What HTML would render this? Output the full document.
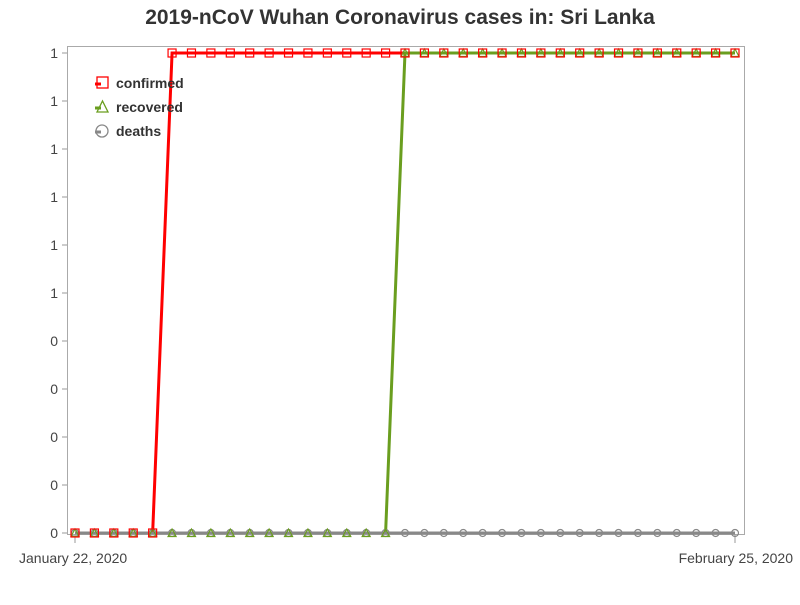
<!DOCTYPE html>
<html><head><meta charset="utf-8"><style>
body{margin:0;background:#fff;}
svg text{font-family:"Liberation Sans",sans-serif;}
</style></head><body>
<svg id="chart" width="800" height="600" xmlns="http://www.w3.org/2000/svg">
<text x="400" y="24" text-anchor="middle" font-size="21" font-weight="bold" fill="#333">2019-nCoV Wuhan Coronavirus cases in: Sri Lanka</text>
<rect x="67.5" y="46.5" width="677" height="488" fill="none" stroke="#aaa"/>
<g id="yaxis"></g>
<g id="xaxis"></g>
<g id="series"></g>
<g>
<g>
<rect x="97" y="77" width="11" height="11" fill="none" stroke="red" stroke-width="1.3"/><line x1="95" y1="84" x2="101" y2="84" stroke="red" stroke-width="3"/>
<text x="116" y="88" font-size="14" font-weight="bold" fill="#333">confirmed</text></g>
<g>
<path d="M97 112 L102.5 101 L108 112 Z" fill="none" stroke="#6a9e1f" stroke-width="1.3"/><line x1="95" y1="108" x2="101" y2="108" stroke="#6a9e1f" stroke-width="3"/>
<text x="116" y="112" font-size="14" font-weight="bold" fill="#333">recovered</text></g>
<g>
<circle cx="102" cy="131" r="6" fill="none" stroke="#888" stroke-width="1.3"/><line x1="95" y1="132" x2="101" y2="132" stroke="#888" stroke-width="3"/>
<text x="116" y="136" font-size="14" font-weight="bold" fill="#333">deaths</text></g>
</g>
</svg>
<script>
const dayCount = 35;
const confirmed = [0,0,0,0,0,1,1,1,1,1,1,1,1,1,1,1,1,1,1,1,1,1,1,1,1,1,1,1,1,1,1,1,1,1,1];
const recovered = [0,0,0,0,0,0,0,0,0,0,0,0,0,0,0,0,0,1,1,1,1,1,1,1,1,1,1,1,1,1,1,1,1,1,1];
const deaths = [0,0,0,0,0,0,0,0,0,0,0,0,0,0,0,0,0,0,0,0,0,0,0,0,0,0,0,0,0,0,0,0,0,0,0];
const yTicks = [0,0.1,0.2,0.3,0.4,0.5,0.6,0.7,0.8,0.9,1.0];
const xTickLabels = ["January 22, 2020","February 25, 2020"];
const NS="http://www.w3.org/2000/svg";
const x=i=>75+i*(660/(dayCount-1));
const y=v=>533-v*480;
function mk(tag,attrs,parent){const e=document.createElementNS(NS,tag);for(const k in attrs)e.setAttribute(k,attrs[k]);parent.appendChild(e);return e;}
const ya=document.getElementById('yaxis');
yTicks.forEach(t=>{
  const l=mk('line',{x1:62,x2:67,y1:y(t),y2:y(t),stroke:'#999'},ya);
  
  
  const tx=mk('text',{x:58,y:y(t)+5,'text-anchor':'end','font-size':14,fill:'#444'},ya);
  tx.textContent=Math.round(t);
  
  
});
const xa=document.getElementById('xaxis');
[[0,xTickLabels[0],'start',19],[dayCount-1,xTickLabels[1],'end',793]].forEach(([i,lab,anc,tx0])=>{
  const l=mk('line',{x1:x(i),x2:x(i),y1:534,y2:543,stroke:'#999'},xa);
  
  
  const t=mk('text',{x:tx0,y:563,'text-anchor':anc,'font-size':14,fill:'#444'},xa);
  t.textContent=lab;
  
  
});
const sg=document.getElementById('series');
const defs=[['confirmed',confirmed,'red','sq'],['recovered',recovered,'#6a9e1f','tri'],['deaths',deaths,'#888','circ']];
defs.forEach(([name,d,c])=>{
  const p=mk('polyline',{points:d.map((v,i)=>x(i)+','+y(v)).join(' '),fill:'none',stroke:c,'stroke-width':3},sg);
  
  
});
defs.slice().reverse().forEach(([name,d,c,m])=>{
  d.forEach((v,i)=>{
    const cx=x(i),cy=y(v);let e;
    if(m==='sq')e=mk('rect',{x:cx-4,y:cy-4,width:8,height:8,fill:'none',stroke:c,'stroke-width':1.2},sg);
    else if(m==='tri')e=mk('path',{d:`M${cx-4} ${cy+3.5} L${cx} ${cy-4} L${cx+4} ${cy+3.5} Z`,fill:'none',stroke:c,'stroke-width':1.2},sg);
    else e=mk('circle',{cx:cx,cy:cy,r:3.5,fill:'none',stroke:c,'stroke-width':1.2},sg);
    
    
  });
});
</script>
</body></html>
